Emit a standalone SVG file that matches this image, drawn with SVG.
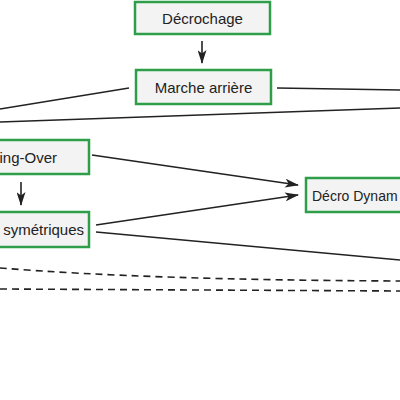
<svg xmlns="http://www.w3.org/2000/svg" width="400" height="400" viewBox="0 0 400 400">
<style>
.box{fill:#f3f3f3;stroke:#2e9e4a;stroke-width:2.5}
.lbl{font-family:"Liberation Sans",Arial,sans-serif;font-size:15px;fill:#222}
.ln{fill:none;stroke:#222;stroke-width:1.6}
.dash{fill:none;stroke:#222;stroke-width:1.6;stroke-dasharray:7 5}
</style>
<defs>
<marker id="ah" viewBox="0 0 14 9" refX="13" refY="4.5" markerWidth="14" markerHeight="9" markerUnits="userSpaceOnUse" orient="auto">
<path d="M0,0 L14,4.5 L0,9 L3.5,4.5 Z" fill="#222"/>
</marker>
</defs>
<rect width="400" height="400" fill="#fff"/>
<g id="connectors">
<path class="ln" d="M202,41 L202,63" marker-end="url(#ah)"/>
<path class="ln" d="M129,88 L0,109"/>
<path class="ln" d="M277,88 L400,90"/>
<path class="ln" d="M0,122 L400,108"/>
<path class="ln" d="M21,182 L21,205" marker-end="url(#ah)"/>
<path class="ln" d="M92,155 L298,185" marker-end="url(#ah)"/>
<path class="ln" d="M96,225 L298,195" marker-end="url(#ah)"/>
<path class="ln" d="M96,232 L400,260"/>
<path class="dash" d="M0,268 Q150,280 400,281"/>
<path class="dash" d="M0,289 L400,291"/>
</g>
<g id="decrochage">
<rect class="box" x="135" y="2" width="135" height="32"/>
<text class="lbl" x="202.5" y="23.5" text-anchor="middle">Décrochage</text>
</g>
<g id="marche-arriere">
<rect class="box" x="136" y="70" width="135" height="34"/>
<text class="lbl" x="203.5" y="92.5" text-anchor="middle">Marche arrière</text>
</g>
<g id="crossing-over">
<rect class="box" x="-60" y="140" width="149" height="34"/>
<text class="lbl" x="57" y="162.5" text-anchor="end">ing-Over</text>
</g>
<g id="asymetriques">
<rect class="box" x="-60" y="212" width="149" height="35"/>
<text class="lbl" x="84" y="234.5" text-anchor="end">symétriques</text>
</g>
<g id="decro-dynam">
<rect class="box" x="306" y="178" width="140" height="34"/>
<text class="lbl" x="312" y="200.5" style="font-size:14px">Décro Dynam</text>
</g>
</svg>
